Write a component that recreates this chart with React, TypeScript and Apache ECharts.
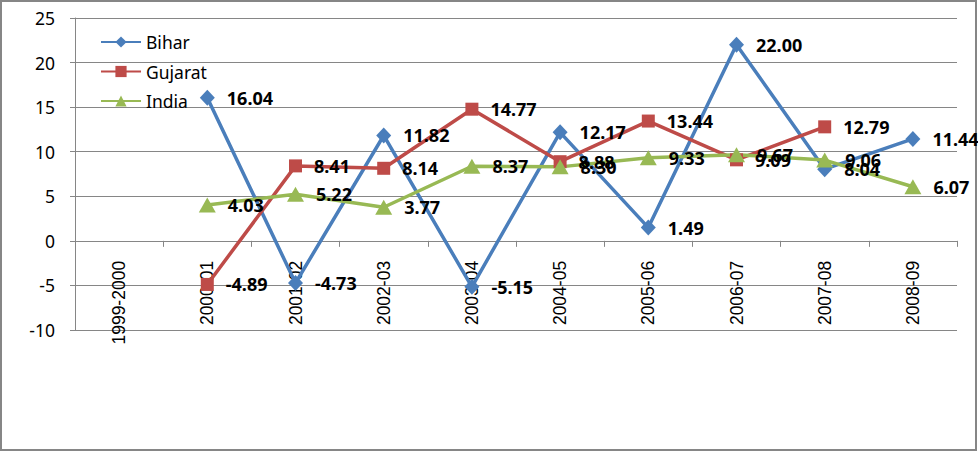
import React, { useEffect, useRef } from "react";
import * as echarts from "echarts";

const categories = ["1999-2000", "2000-01", "2001-02", "2002-03", "2003-04", "2004-05", "2005-06", "2006-07", "2007-08", "2008-09"];
const bihar = [null, 16.04, -4.73, 11.82, -5.15, 12.17, 1.49, 22.0, 8.04, 11.44];
const gujarat = [null, -4.89, 8.41, 8.14, 14.77, 8.88, 13.44, 9.09, 12.79, null];
const india = [null, 4.03, 5.22, 3.77, 8.37, 8.3, 9.33, 9.67, 9.06, 6.07];

const yMin = -10;
const yMax = 25;
const yStep = 5;

const FONT = "'Noto Sans', sans-serif";
const GRAY = "#868686";

const W = 978;
const H = 453;
const GRID_TOP = 18;
const GRID_BOTTOM = 123;

export default function App() {
  const ref = useRef<HTMLDivElement>(null);
  useEffect(() => {
    if (!ref.current) return;
    const chart = echarts.init(ref.current, null, { renderer: "svg" });
    const plotH = H - GRID_TOP - GRID_BOTTOM;
    const zeroShift = (plotH * (0 - yMin)) / (yMax - yMin);
    const mk = (name: string, data: (number | null)[], color: string, symbol: string, size: any) => ({
      name,
      type: "line",
      data,
      symbol,
      symbolSize: size,
      showAllSymbol: true,
      connectNulls: false,
      lineStyle: { color, width: 3.5 },
      itemStyle: { color },
      label: {
        show: true,
        position: "right",
        distance: 12,
        fontFamily: FONT,
        fontSize: 18,
        fontWeight: "bold",
        color: "#000",
        formatter: (p: any) => (p.value == null ? "" : Number(p.value).toFixed(2)),
      },
    });
    chart.setOption({
      animation: false,
      backgroundColor: "#fff",
      graphic: [
        {
          type: "rect",
          shape: { x: 1, y: 1, width: 975, height: 449 },
          style: { fill: "none", stroke: GRAY, lineWidth: 2 },
          silent: true,
        },
      ],
      legend: {
        left: 100,
        top: 33,
        padding: 0,
        orient: "vertical",
        itemWidth: 40,
        itemHeight: 14,
        itemGap: 11.5,
        textStyle: { fontFamily: FONT, fontSize: 17.5, color: "#000" },
        data: ["Bihar", "Gujarat", "India"],
      },
      grid: { left: 75, right: 21, top: GRID_TOP, bottom: GRID_BOTTOM, containLabel: false },
      xAxis: {
        type: "category",
        data: categories,
        boundaryGap: true,
        position: "bottom",
        offset: -zeroShift,
        axisLine: { show: true, onZero: false, lineStyle: { color: GRAY, width: 1 } },
        axisTick: { show: true, length: 6, lineStyle: { color: GRAY } },
        axisLabel: {
          rotate: 90,
          margin: 20,
          interval: 0,
          fontFamily: "'Liberation Sans', Arial, sans-serif",
          fontSize: 17.5,
          color: "#000",
        },
        splitLine: { show: false },
      },
      yAxis: {
        type: "value",
        min: yMin,
        max: yMax,
        interval: yStep,
        axisLine: { show: true, lineStyle: { color: GRAY, width: 1 } },
        axisTick: { show: true, length: 5, lineStyle: { color: GRAY } },
        axisLabel: { margin: 20, fontFamily: FONT, fontSize: 17.5, color: "#000" },
        splitLine: { show: true, lineStyle: { color: GRAY, width: 1 } },
      },
      series: [
        mk("Bihar", bihar, "#4A7EBB", "diamond", [15, 16]),
        mk("Gujarat", gujarat, "#BE4B48", "rect", 13),
        mk("India", india, "#98B954", "triangle", [17, 15]),
      ],
    });
    return () => chart.dispose();
  }, []);
  return <div ref={ref} style={{ position: "fixed", left: 0, top: 0, width: W, height: H }} />;
}
